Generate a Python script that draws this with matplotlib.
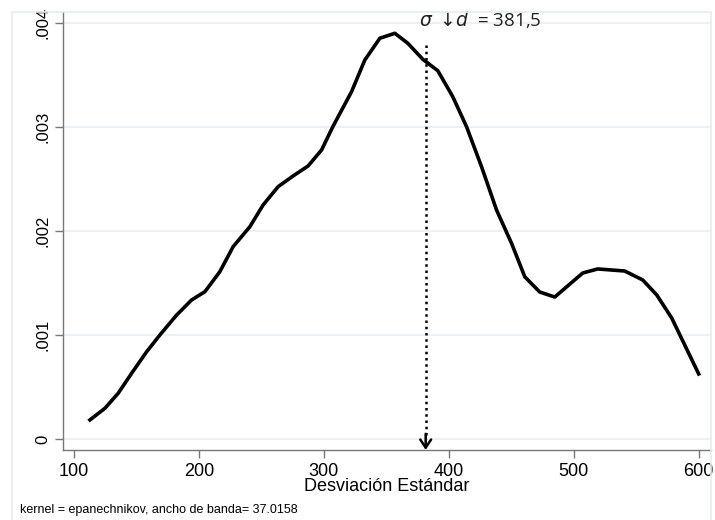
import matplotlib
matplotlib.use("Agg")
import matplotlib.pyplot as plt
from matplotlib.patches import Rectangle

# kernel density estimate (density in units of 0.001)
sd_values = [112.8, 124.8, 135.4, 146.2, 158.2, 168.8, 182.2, 194.2, 204.8, 216.8,
             227.4, 240.8, 251.4, 263.4, 275.4, 287.4, 298.2, 307.2, 322.2, 332.8,
             344.8, 356.8, 367.2, 379.2, 391.2, 403.2, 414.2, 426.2, 438.2, 450.2,
             460.8, 472.8, 484.8, 507.2, 519.2, 540.8, 555.2, 566.4, 578.4, 588.8, 600.0]
density_milli = [0.183, 0.295, 0.439, 0.632, 0.839, 1.0, 1.192, 1.337, 1.416, 1.609,
                 1.849, 2.041, 2.25, 2.426, 2.529, 2.625, 2.779, 3.003, 3.34, 3.644,
                 3.853, 3.901, 3.805, 3.651, 3.541, 3.291, 3.003, 2.618, 2.202, 1.882,
                 1.56, 1.413, 1.365, 1.596, 1.635, 1.615, 1.529, 1.385, 1.163, 0.904, 0.625]
density = [d / 1000 for d in density_milli]

x_ticks = [100, 200, 300, 400, 500, 600]
y_ticks = [0, 0.001, 0.002, 0.003, 0.004]
y_tick_labels = ["0", ".001", ".002", ".003", ".004"]
sd_mean = 381.5
marker_top = 0.00379

narrow = ["Liberation Sans Narrow", "Liberation Sans", "DejaVu Sans"]

fig = plt.figure(figsize=(7.15, 5.2), dpi=100)
ax = fig.add_axes([0.088, 0.1346, 0.906, 0.8424])

# light outer frame of the graph region
fig.patches.append(Rectangle((12 / 715, -0.01), 699 / 715, 1 - 12 / 520 + 0.01,
                             transform=fig.transFigure, fill=False,
                             edgecolor="#e6eef0", linewidth=1.2))

ax.plot(sd_values, density, color="black", linewidth=2.6, solid_joinstyle="round")

# dotted marker line with a solid open arrow head at the axis
ax.plot([sd_mean, sd_mean], [marker_top, 0.0], color="black", linewidth=1.8,
        linestyle=(0, (1, 1.5)))
ax.annotate("", xy=(sd_mean, -0.000105), xytext=(sd_mean, 0.00005),
            arrowprops=dict(arrowstyle="->,head_length=0.45,head_width=0.3",
                            linewidth=1.8, color="black", shrinkA=0, shrinkB=0,
                            mutation_scale=13))
ax.text(376, 0.00403, r"$\sigma$ $\downarrow\!d$  = 381,5", fontsize=13.5,
        family=["Open Sans", "DejaVu Sans"], ha="left", va="center", color="#222222",
        clip_on=False)

ax.set_xlim(91.2, 609.6)
ax.set_ylim(-0.000106, 0.004106)
ax.set_xticks(x_ticks)
ax.set_xticklabels([str(t) for t in x_ticks], family=narrow, fontsize=13)
ax.set_yticks(y_ticks)
ax.set_yticklabels(y_tick_labels, family=narrow, fontsize=12, rotation=90, va="center")

for y in y_ticks:
    ax.axhline(y, color="#e8f0f1", linewidth=1.2, zorder=0)

for side in ["top", "right"]:
    ax.spines[side].set_visible(False)
for side in ["left", "bottom"]:
    ax.spines[side].set_color("#777777")
    ax.spines[side].set_linewidth(1.0)
ax.tick_params(colors="#777777", labelcolor="black", length=6, width=1.0, direction="out")
ax.tick_params(axis="x", pad=3)
ax.tick_params(axis="y", pad=3)

ax.set_xlabel("Desviación Estándar", family=narrow, fontsize=13, labelpad=-1)
fig.text(20 / 715, 1 - 510 / 520, "kernel = epanechnikov, ancho de banda= 37.0158",
         family=narrow, fontsize=9, va="center", ha="left")

fig.savefig("out.png", dpi=100, facecolor="white")
